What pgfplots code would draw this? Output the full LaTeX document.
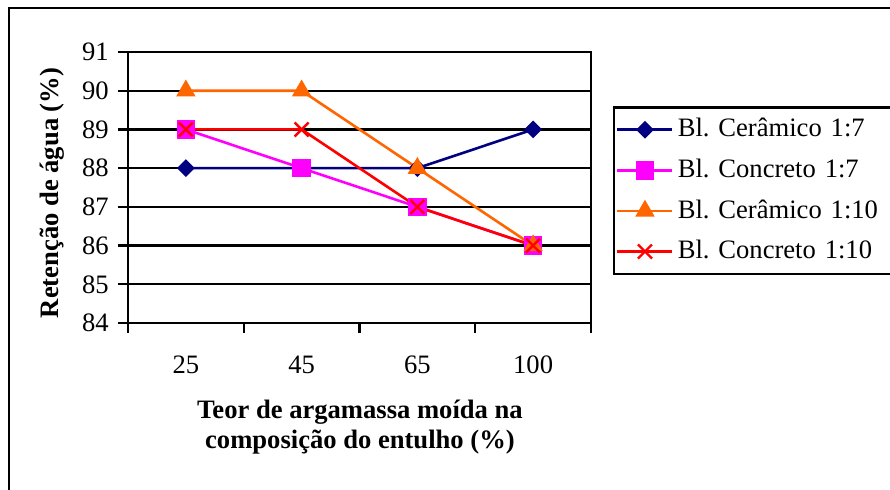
\documentclass[border=0pt]{standalone}
\usepackage{pgfplots}
\pgfplotsset{compat=1.18}
\usepackage{fontspec}
\setmainfont{Liberation Serif}

\definecolor{cnavy}{RGB}{0,0,128}
\definecolor{cmag}{RGB}{255,0,255}
\definecolor{corange}{RGB}{255,102,0}
\definecolor{cred}{RGB}{255,0,0}

\begin{document}
\frenchspacing
\fontsize{13.3}{15}\selectfont
\begin{tikzpicture}
\begin{axis}[
	scale only axis,
	width=231.5pt, height=135.5pt,
	xmin=-0.5, xmax=3.5,
	ymin=84, ymax=91,
	ytick={84,85,...,91},
	xtick={-0.5,0.5,1.5,2.5,3.5},
	xticklabels={},
	extra x ticks={0,1,2,3},
	extra x tick labels={25,45,65,100},
	extra x tick style={major tick length=0pt},
	xticklabel style={anchor=center, yshift=-21pt},
	tick align=outside,
	tick pos=left,
	major tick length=5pt,
	every tick/.style={black, line width=1.2pt},
	axis line style={black, line width=1.2pt},
	ymajorgrids,
	major grid style={black, line width=1.2pt},
	tick label style={font=\fontsize{13.3}{15}\selectfont},
	/pgf/number format/assume math mode=true,
	ylabel={\bfseries Retenção de água (\%)},
	every axis y label/.style={at={(axis description cs:-0.164,0.48)}, rotate=90, anchor=center, font=\fontsize{13.3}{15}\selectfont},
	xlabel={\bfseries Teor de argamassa moída na\\\bfseries composição do entulho (\%)},
	every axis x label/.style={at={(axis description cs:0.501,-0.384)}, anchor=center, align=center, font=\fontsize{13.3}{15}\selectfont},
	legend style={at={(axis description cs:1.0475,0.8)}, anchor=north west,
		draw=black, line width=1.2pt, inner sep=1pt, row sep=0pt,
		font=\fontsize{13.3}{15}\selectfont,
		nodes={minimum height=20.3pt, inner sep=2pt, text width=110pt, align=left}},
	legend cell align=left,
	legend image code/.code={\draw[mark repeat=2,mark phase=2,#1] plot coordinates {(6.5pt,0pt)(20.25pt,0pt)(34pt,0pt)};},
]
\addplot[cnavy, line width=1.3pt, mark=square*, mark size=2.5pt, mark options={rotate=45, fill=cnavy, draw=cnavy}]
	coordinates {(0,88) (1,88) (2,88) (3,89)};
\addplot[cmag, line width=1.3pt, mark=square*, mark size=4pt, mark options={fill=cmag, draw=cmag}]
	coordinates {(0,89) (1,88) (2,87) (3,86)};
\addplot[corange, line width=1.3pt, mark=triangle*, mark size=4.3pt, mark options={fill=corange, draw=corange}]
	coordinates {(0,90) (1,90) (2,88) (3,86)};
\addplot[cred, line width=1.3pt, mark=x, mark size=4.95pt, mark options={draw=cred, line width=1.2pt}]
	coordinates {(0,89) (1,89) (2,87) (3,86)};
\legend{Bl. Cerâmico 1:7, Bl. Concreto 1:7, Bl. Cerâmico 1:10, Bl. Concreto 1:10}
\end{axis}
\draw[line width=1.2pt] (-59.5pt,-100pt) -- (-59.5pt,157.5pt) -- (400pt,157.5pt);
\pgfresetboundingbox
\useasboundingbox (-64pt,-83pt) rectangle (381pt,161.5pt);
\end{tikzpicture}
\end{document}
